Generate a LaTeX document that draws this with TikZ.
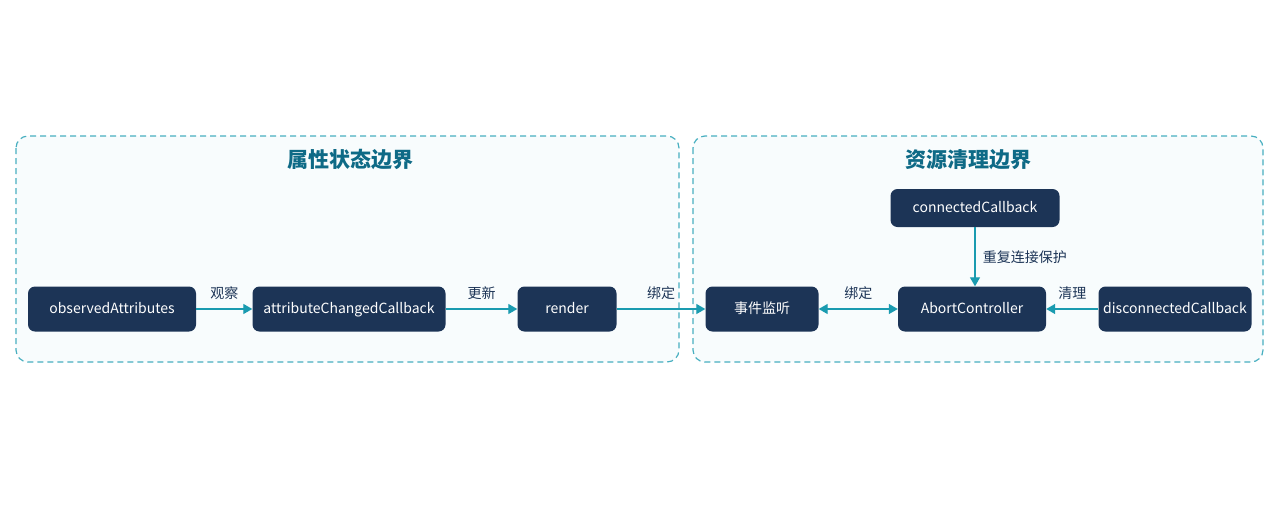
\documentclass[tikz,border=0pt]{standalone}
\usepackage{fontspec}
\setmainfont{Noto Sans CJK SC}
\usetikzlibrary{arrows.meta}
\definecolor{nodebg}{HTML}{1C3456}
\definecolor{teal}{HTML}{1A9BB0}
\definecolor{title}{HTML}{0E6A86}
\begin{document}
\begin{tikzpicture}[x=1pt,y=-1pt,
  box/.style={rounded corners=7pt,fill=nodebg,text=white,font=\fontsize{14}{16}\selectfont,minimum height=45pt,inner xsep=4pt,text height=11pt,text depth=3pt},
  grp/.style={draw=teal!80,dashed,dash pattern=on 6pt off 4pt,line width=1.2pt,rounded corners=12pt,fill=teal!3},
  arr/.style={-{Triangle[length=9pt,width=10pt]},draw=teal,line width=1.3pt},
  lab/.style={font=\fontsize{14}{16}\selectfont,text=nodebg},
  ttl/.style={font=\fontsize{21}{24}\selectfont\bfseries,text=title}]
\useasboundingbox (0,0) rectangle (1280,512);
\draw[grp] (16,136) rectangle (679,362);
\draw[grp] (693,136) rectangle (1263,362);
\node[ttl] (t1) at (350,160) {属性状态边界};
\node[ttl] (t2) at (968,160) {资源清理边界};
\node[box,minimum width=168pt] (oa) at (112,309) {observedAttributes};
\node[box,minimum width=193pt] (ac) at (349,309) {attributeChangedCallback};
\node[box,minimum width=99pt] (re) at (567,309) {render};
\node[box,minimum width=113pt] (ev) at (762,309) {事件监听};
\node[box,minimum width=148pt] (ab) at (972,309) {AbortController};
\node[box,minimum width=153pt] (dc) at (1175,309) {disconnectedCallback};
\node[box,minimum width=169pt,minimum height=38pt] (cc) at (975,208) {connectedCallback};
\draw[arr] (oa) -- node[lab,above=5pt]{观察} (ac);
\draw[arr] (ac) -- node[lab,above=5pt]{更新} (re);
\draw[arr] (re) -- node[lab,above=5pt]{绑定} (ev);
\draw[arr,{Triangle[length=9pt,width=10pt]}-{Triangle[length=9pt,width=10pt]}] (ev) -- node[lab,above=5pt]{绑定} (ab);
\draw[arr] (dc) -- node[lab,above=5pt]{清理} (ab);
\draw[arr] (cc) -- node[lab,right=4pt]{重复连接保护} (cc|-ab.north);
\end{tikzpicture}
\end{document}
